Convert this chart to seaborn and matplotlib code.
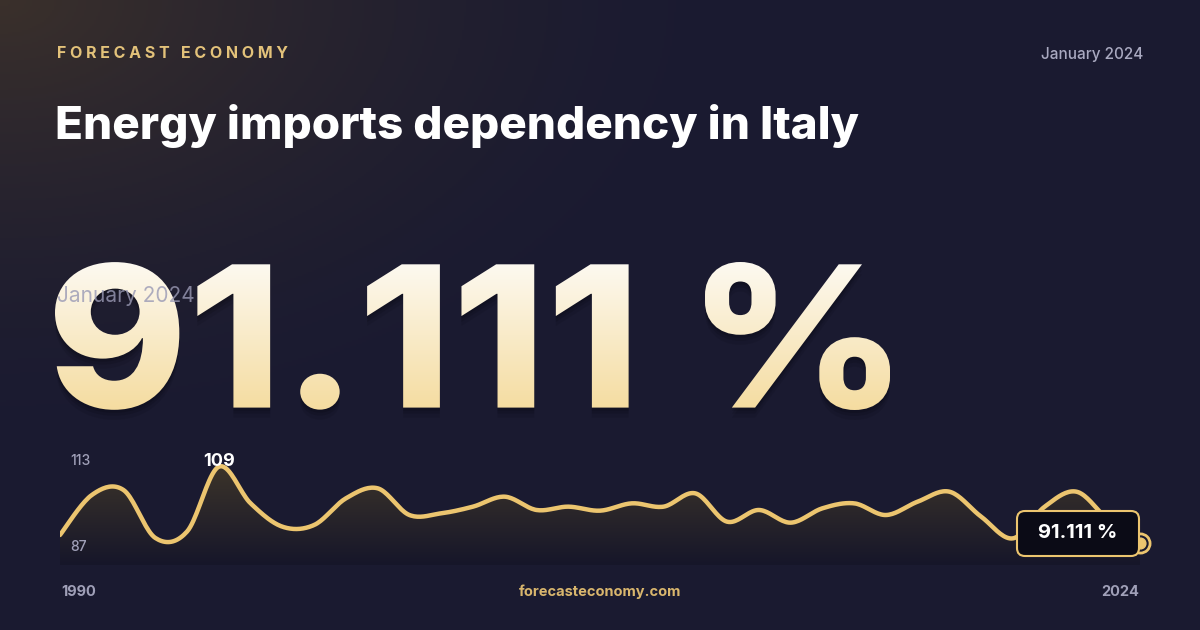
import numpy as np
import pandas as pd
import matplotlib
matplotlib.use("Agg")
import matplotlib.pyplot as plt
import seaborn as sns
from matplotlib.textpath import TextPath
from matplotlib.font_manager import FontProperties
from matplotlib.patches import PathPatch, FancyBboxPatch
from matplotlib.colors import LinearSegmentedColormap
from matplotlib.transforms import Affine2D

years = list(range(1990, 2025))
values = [92.99, 102.36, 103.53, 92.3, 93.8, 109.0, 100.41, 94.94, 95.33, 101.58,
          103.93, 97.67, 98.07, 99.63, 101.97, 98.85, 99.63, 98.69, 100.41, 99.63,
          102.75, 96.11, 98.85, 95.88, 99.24, 100.41, 97.67, 100.8, 103.14, 97.28,
          92.2, 99.63, 103.14, 96.5, 91.111]
brand = "FORECAST ECONOMY"
title = "Energy imports dependency in Italy"
date_label = "January 2024"
big_value = "91.111 %"
axis_max_label, axis_min_label = "113", "87"
peak_label = "109"
site = "forecasteconomy.com"

sns.set_theme(style="white")
plt.rcParams['font.family'] = ['Inter', 'DejaVu Sans']

W, H = 1200, 630
fig = plt.figure(figsize=(12, 6.3), dpi=100)
bg = fig.add_axes([0, 0, 1, 1])
bg.set_xlim(0, W); bg.set_ylim(H, 0); bg.axis('off')

yy, xx = np.mgrid[0:H:2, 0:W:2]
d = np.sqrt((xx / 700.0) ** 2 + (yy / 420.0) ** 2)
glow = np.clip(1 - d, 0, 1) ** 1.5
base = np.array([0.105, 0.105, 0.19])
warm = np.array([0.23, 0.19, 0.17])
img = base[None, None, :] * (1 - glow[..., None]) + warm[None, None, :] * glow[..., None]
bg.imshow(img, extent=[0, W, H, 0], aspect='auto', zorder=0)

spaced = "   ".join(" ".join(w) for w in brand.split())
bg.text(57, 53, spaced, color='#e3c27a', fontsize=11.5, fontweight='bold', va='center', ha='left')
bg.text(1143, 54, date_label, color='#a9a9c0', fontsize=11, fontweight='medium', va='center', ha='right')
bg.text(55, 126, title, color='white', fontsize=33, fontweight='heavy', va='center', ha='left')

fp = FontProperties(family='Inter', weight='heavy')
tp = TextPath((0, 0), big_value, size=205, prop=fp)
ext = tp.get_extents()
sx = (890 - 55) / ext.width
sy = (410 - 262) / ext.height
tr = Affine2D().translate(-ext.x0, -ext.y0).scale(sx, -sy).translate(55, 410)
path = tr.transform_path(tp)
for off, a in ((10, 0.08), (6, 0.1), (3, 0.12)):
    bg.add_patch(PathPatch(Affine2D().translate(0, off).transform_path(path), fc='black', ec='none', alpha=a, zorder=2))
patch = PathPatch(path, fc='none', ec='none', zorder=3)
bg.add_patch(patch)
grad = np.linspace(0, 1, 256)[:, None]
cm = LinearSegmentedColormap.from_list('g', ['#fdfaf2', '#f5dca0'])
im = bg.imshow(grad, extent=[40, 900, 410, 260], cmap=cm, aspect='auto', zorder=3)
im.set_clip_path(patch)
bg.text(57, 296, date_label, color='#9a9ab5', fontsize=15, va='center', ha='left', alpha=0.8, zorder=4)

top_v = 91.111 + (543 - 455) * 0.2344
bot_v = 91.111 - (565 - 543) * 0.2344
ax = fig.add_axes([60 / W, (H - 565) / H, 1080 / W, 110 / H])
ax.patch.set_alpha(0)
ax.axis('off')

x = np.array(years, float); y = np.array(values)
px = np.concatenate([[x[0]], x, [x[-1]]]); py = np.concatenate([[y[0]], y, [y[-1]]])
sxs, sys_ = [], []
for i in range(1, len(px) - 2):
    t = np.linspace(0, 1, 20, endpoint=False)
    for arr, out in ((px, sxs), (py, sys_)):
        p0, p1, p2, p3 = arr[i - 1], arr[i], arr[i + 1], arr[i + 2]
        out.extend(0.5 * (2 * p1 + (-p0 + p2) * t + (2 * p0 - 5 * p1 + 4 * p2 - p3) * t ** 2
                          + (-p0 + 3 * p1 - 3 * p2 + p3) * t ** 3))
sxs.append(x[-1]); sys_.append(y[-1])
smooth = pd.DataFrame({'year': sxs, 'value': sys_})

poly = ax.fill_between(smooth['year'], smooth['value'], bot_v, color='none')
g2 = np.linspace(0, 1, 256)[:, None]
cm2 = LinearSegmentedColormap.from_list('a', ['#3d3529', '#16162a'])
im2 = ax.imshow(g2, extent=[years[0], years[-1], bot_v, 110], cmap=cm2, aspect='auto', zorder=1)
im2.set_clip_path(poly.get_paths()[0], transform=ax.transData)
sns.lineplot(data=smooth, x='year', y='value', ax=ax, color='#ecc56f', linewidth=3.2, zorder=3)
ax.set_xlim(years[0], years[-1]); ax.set_ylim(bot_v, top_v)
ax.scatter([years[-1]], [values[-1]], s=190, facecolor='#1a1a2e', edgecolor='#ecc56f', linewidth=2, zorder=5, clip_on=False)
ax.scatter([years[-1]], [values[-1]], s=60, color='#ecc56f', zorder=6, clip_on=False)

fg = fig.add_axes([0, 0, 1, 1])
fg.set_xlim(0, W); fg.set_ylim(H, 0); fg.axis('off'); fg.patch.set_alpha(0)
fg.text(70, 461, axis_max_label, color='#a0a0b8', fontsize=10, fontweight='medium', va='center')
fg.text(70, 547, axis_min_label, color='#a0a0b8', fontsize=10, fontweight='medium', va='center')
fg.text(219, 461, peak_label, color='white', fontsize=13, fontweight='bold', va='center', ha='center')
fg.add_patch(FancyBboxPatch((1017, 511), 122, 45, boxstyle='round,pad=0,rounding_size=8',
                            fc='#0b0b16', ec='#ecc56f', lw=1.5, zorder=7))
fg.text(1078, 533, big_value, color='white', fontsize=14.5, fontweight='bold', va='center', ha='center', zorder=8)
fg.text(61, 592, str(years[0]), color='#a0a0b8', fontsize=10.5, fontweight='bold', va='center')
fg.text(1139, 592, str(years[-1]), color='#a0a0b8', fontsize=10.5, fontweight='bold', va='center', ha='right')
fg.text(600, 592, site, color='#d9b66d', fontsize=10.5, fontweight='bold', va='center', ha='center')

fig.savefig('out.png', dpi=100)
